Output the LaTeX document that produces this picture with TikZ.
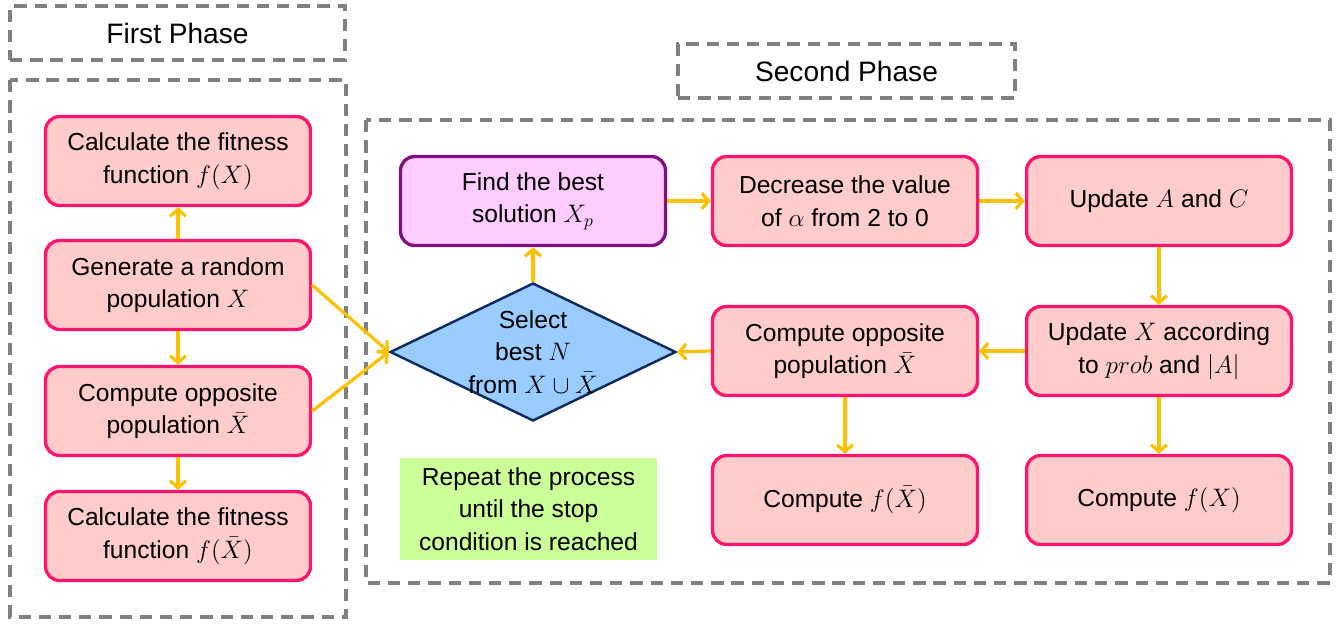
\documentclass[tikz,border=0pt]{standalone}
\usepackage{fontspec}
\setmainfont{Liberation Sans}
\usetikzlibrary{shapes.geometric,arrows.meta}
\definecolor{boxfill}{HTML}{FFCCCC}
\definecolor{boxline}{HTML}{FF1470}
\definecolor{bestfill}{HTML}{FFCCFF}
\definecolor{bestline}{HTML}{7F1080}
\definecolor{selfill}{HTML}{99CCFF}
\definecolor{selline}{HTML}{0F2A5F}
\definecolor{notefill}{HTML}{CCFF99}
\definecolor{flowgold}{HTML}{FFC000}
\definecolor{phasegray}{HTML}{808080}
\begin{document}
\begin{tikzpicture}[x=0.02cm, y=-0.02cm,
  txt/.style={font=\fontsize{14}{18.5}\selectfont, align=center},
  box/.style={txt, draw=boxline, fill=boxfill, line width=1.9pt, rounded corners=8pt, minimum width=5.3cm, minimum height=1.78cm},
  phase/.style={draw=phasegray, line width=1.9pt, dash pattern=on 7pt off 4.5pt},
  title/.style={phase, font=\fontsize{16}{19}\selectfont, minimum height=1.08cm},
  flow/.style={draw=flowgold, line width=1.8pt, -{Straight Barb[length=4pt,width=9pt]}}]
\useasboundingbox (0,0) rectangle (1340,623);
\node[title, minimum width=6.7cm] (firstT) at (177.5,33) {First Phase};
\node[title, minimum width=6.74cm] (secondT) at (846.5,71) {Second Phase};
\draw[phase] (10,80) rectangle (346,617);
\draw[phase] (366,120) rectangle (1330,583);
\node[box] (fitX) at (178,161) {Calculate the fitness\\function $f(X)$};
\node[box] (genX) at (178,285) {Generate a random\\population $X$};
\node[box] (oppL) at (178,411) {Compute opposite\\population $\bar{X}$};
\node[box] (fitXb) at (178,536) {Calculate the fitness\\function $f(\bar{X})$};
\node[box, draw=bestline, fill=bestfill] (best) at (533,201) {Find the best\\solution $X_p$};
\node[box] (decr) at (845,201) {Decrease the value\\of $\alpha$ from 2 to 0};
\node[box] (updAC) at (1159,201) {Update $A$ and $C$};
\node[box] (updX) at (1159,351) {Update $X$ according\\to $prob$ and $|A|$};
\node[box] (oppR) at (845,351) {Compute opposite\\population $\bar{X}$};
\node[box] (cmpXb) at (845,500) {Compute $f(\bar{X})$};
\node[box] (cmpX) at (1159,500) {Compute $f(X)$};
\node[diamond, draw=selline, fill=selfill, line width=1.4pt, minimum width=5.72cm, minimum height=2.76cm, inner sep=0pt,
  label={[txt]center:Select\\best $N$\\from $X\cup\bar{X}$}] (sel) at (533,352) {};
\node[txt, fill=notefill, minimum width=5.14cm, minimum height=2.04cm] (note) at (528.5,509) {Repeat the process\\until the stop\\condition is reached};
\draw[flow] (genX) -- (fitX);
\draw[flow] (genX) -- (oppL);
\draw[flow] (oppL) -- (fitXb);
\draw[flow] (genX.east) -- (sel.west);
\draw[flow] (oppL.east) -- (sel.west);
\draw[flow] (sel.north) -- (best.south);
\draw[flow] (best) -- (decr);
\draw[flow] (decr) -- (updAC);
\draw[flow] (updAC) -- (updX);
\draw[flow] (updX) -- (oppR);
\draw[flow] (oppR.west) -- (sel.east);
\draw[flow] (oppR) -- (cmpXb);
\draw[flow] (updX) -- (cmpX);
\end{tikzpicture}
\end{document}
